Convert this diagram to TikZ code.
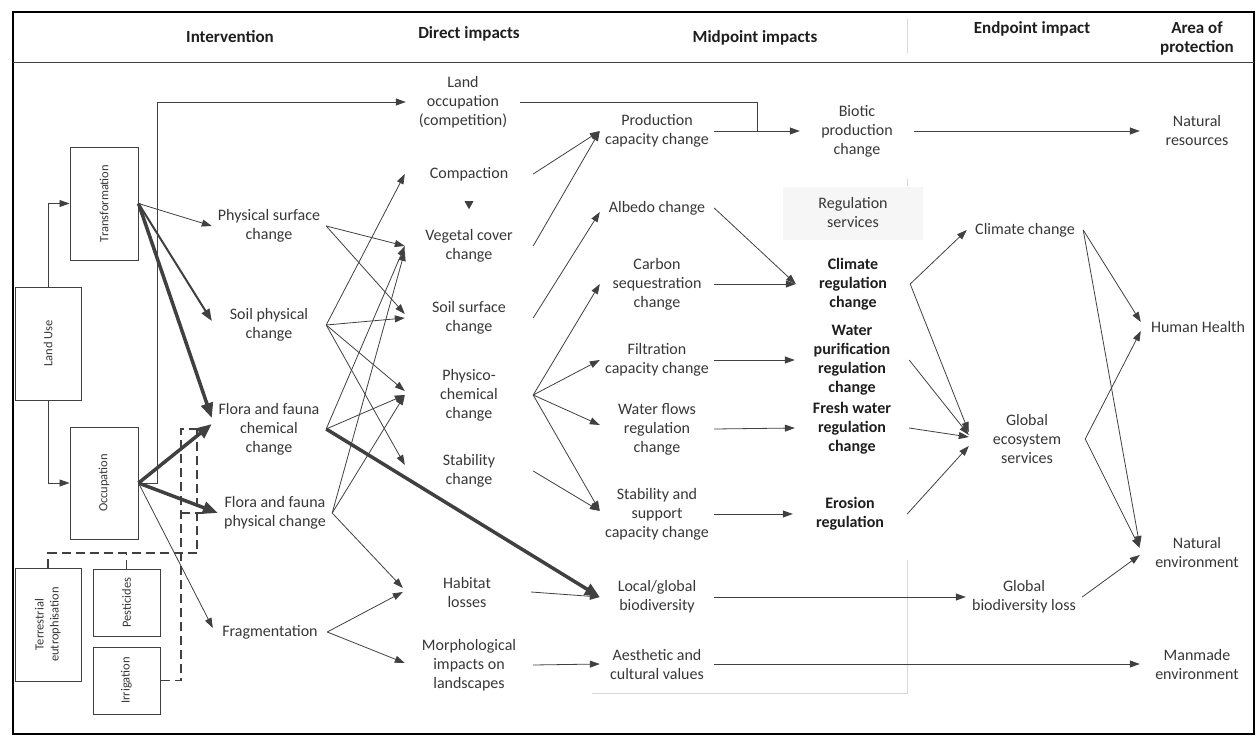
\documentclass[tikz,border=0pt]{standalone}
\usepackage{fontspec}
\setmainfont{Carlito}
\usetikzlibrary{arrows.meta,calc}
\definecolor{linec}{RGB}{64,64,64}
\definecolor{txtc}{RGB}{55,55,55}
\definecolor{hdrc}{RGB}{30,30,30}
\definecolor{faint}{RGB}{215,215,215}
\definecolor{rsfill}{RGB}{246,246,246}
\tikzset{
  txt/.style={align=center, text=txtc, font=\fontsize{16}{19}\selectfont, inner sep=0pt, minimum width=114pt},
  dtxt/.style={txt, minimum width=128pt},
  btxt/.style={txt, text=hdrc, font=\bfseries\fontsize{16}{19}\selectfont},
  hdr/.style={align=center, text=hdrc, font=\bfseries\fontsize{17}{19}\selectfont, inner sep=0pt},
  box/.style={draw=linec, line width=1pt, inner sep=0pt, text=txtc, font=\fontsize{12.5}{15}\selectfont},
  ln/.style={draw=linec, line width=0.8pt},
  arr/.style={ln, -{Triangle[length=10pt,width=7pt]}},
  marr/.style={ln, line width=2pt, -{Triangle[length=12pt,width=9pt]}},
  tarr/.style={ln, line width=3.5pt, -{Triangle[length=15pt,width=12pt]}},
  dsh/.style={draw=linec, line width=1.3pt, dash pattern=on 9pt off 5pt},
}
\begin{document}
\begin{tikzpicture}[x=1pt,y=-1pt]
\useasboundingbox (0,0) rectangle (1256,736);
% frame and header
\draw[black, line width=1.6pt] (13,12) rectangle (1254,734);
\draw[linec, line width=1pt] (13,62) -- (1254,62);
\draw[faint, line width=1pt] (907,19) -- (907,53);
\draw[faint, line width=1pt] (907,179) -- (907,186);
\draw[faint, line width=1pt] (907,560) -- (907,693) -- (592,693);

\node[hdr] (h1) at (230,37) {Intervention};
\node[hdr] (h2) at (469,34) {Direct impacts};
\node[hdr] (h3) at (755,38) {Midpoint impacts};
\node[hdr] (h4) at (1032,29) {Endpoint impact};
\node[hdr] (h5) at (1197,38) {Area of\\protection};

% left boxes
\node[box, minimum width=68pt, minimum height=113pt] (trans) at (104,203.5) {\rotatebox{90}{Transformation}};
\node[box, minimum width=66pt, minimum height=113pt] (lu) at (48,343.5) {\rotatebox{90}{Land Use}};
\node[box, minimum width=68pt, minimum height=112pt] (occ) at (104,483) {\rotatebox{90}{Occupation}};
\node[box, minimum width=66pt, minimum height=113pt] (te) at (48,624.5) {\rotatebox{90}{\begin{tabular}{@{}c@{}}Terrestrial\\eutrophisation\end{tabular}}};
\node[box, minimum width=67pt, minimum height=67pt] (pest) at (126.5,602.5) {\rotatebox{90}{Pesticides}};
\node[box, minimum width=67pt, minimum height=67pt] (irr) at (126.5,680.5) {\rotatebox{90}{Irrigation}};

% intervention results
\node[txt] (psc) at (269,226) {Physical surface\\change};
\node[txt] (spc) at (269,325) {Soil physical\\change};
\node[txt] (ffc) at (269,429) {Flora and fauna\\chemical\\change};
\node[txt] (ffp) at (275,513) {Flora and fauna\\physical change};
\node[txt] (frag) at (270,632) {Fragmentation};

% direct impacts
\node[txt] (lo) at (463,102) {Land\\occupation\\(competition)};
\node[dtxt] (comp) at (469,174) {Compaction};
\node[dtxt] (veg) at (469,246) {Vegetal cover\\change};
\node[dtxt] (ssc) at (469,318) {Soil surface\\change};
\node[dtxt] (phys) at (469,395) {Physico-\\chemical\\change};
\node[dtxt] (stab) at (469,471) {Stability\\change};
\node[dtxt] (hab) at (467,592) {Habitat\\losses};
\node[dtxt] (morph) at (469,665) {Morphological\\impacts on\\landscapes};

% midpoint
\node[txt] (pcc) at (657,131) {Production\\capacity change};
\node[txt] (alb) at (657,208) {Albedo change};
\node[txt] (cs) at (657,284) {Carbon\\sequestration\\change};
\node[txt] (filt) at (657,360) {Filtration\\capacity change};
\node[txt] (wf) at (657,429) {Water flows\\regulation\\change};
\node[txt] (ssup) at (657,514) {Stability and\\support\\capacity change};
\node[txt] (lgb) at (657,597) {Local/global\\biodiversity};
\node[txt] (aes) at (657,664) {Aesthetic and\\cultural values};

% regulation services
\node[txt] (bpc) at (857,131) {Biotic\\production\\change};
\node[txt, fill=rsfill, minimum width=140pt, minimum height=53pt] (rs) at (853,213) {Regulation\\services};
\node[btxt] (crc) at (853,284) {Climate\\regulation\\change};
\node[btxt] (wpr) at (852,360) {Water\\purification\\regulation\\change};
\node[btxt] (fwr) at (852,428) {Fresh water\\regulation\\change};
\node[btxt] (ero) at (850,514) {Erosion\\regulation};

% endpoint
\node[txt, minimum width=116pt] (cc) at (1025,230) {Climate change};
\node[txt, minimum width=116pt] (ges) at (1027,439) {Global\\ecosystem\\services};
\node[txt, minimum width=116pt] (gbl) at (1024,597) {Global\\biodiversity loss};

% area of protection
\node[txt] (nr) at (1197,131) {Natural\\resources};
\node[txt] (hh) at (1198,327) {Human Health};
\node[txt] (ne) at (1197,552) {Natural\\environment};
\node[txt] (me) at (1197,664) {Manmade\\environment};

% land use tree
\draw[arr] (lu.north) |- (trans.west);
\draw[arr] (lu.south) |- (occ.west);
\draw[arr] (occ.east) -- ($(occ.east)+(19,0)$) |- (lo.west);

% dashed contributions
\draw[dsh] (te.north) |- (197,553) -- (197,429);
\draw[dsh] (pest.north) -- (pest.north |- 0,553);
\draw[dsh] (irr.east) -| (181,429) -- (205,429);
\draw[dsh] (181,513) -- (205,513);

% from transformation / occupation
\draw[arr] (trans.east) -- (psc.west);
\draw[marr] (trans.east) -- ($(spc.west)+(0,-4)$);
\draw[tarr] (trans.east) -- ($(ffc.west)+(0,-11)$);
\draw[tarr] (occ.east) -- ($(ffc.west)+(0,-5)$);
\draw[tarr] (occ.east) -- (ffp.west);
\draw[arr] (occ.east) -- ($(frag.west)+(0,-4)$);

% to direct impacts
\draw[arr] (psc.east) -- (veg.west);
\draw[arr] (psc.east) -- ($(ssc.west)+(0,-4)$);
\draw[arr] (spc.east) -- (comp.west);
\draw[arr] (spc.east) -- (ssc.west);
\draw[arr] (spc.east) -- ($(phys.west)+(0,-4)$);
\draw[arr] (spc.east) -- ($(stab.west)+(0,-6)$);
\draw[arr] (ffc.east) -- (veg.west);
\draw[arr] (ffc.east) -- (phys.west);
\draw[arr] (ffp.east) -- ($(veg.west)+(0,5)$);
\draw[arr] (ffp.east) -- (phys.west);
\draw[arr] (ffp.east) -- ($(hab.west)+(0,-4)$);
\draw[arr] (frag.east) -- (hab.west);
\draw[arr] (frag.east) -- ($(morph.west)+(0,-2)$);
\fill[linec] ($(comp.south)!0.5!(veg.north)$) ++(-4.5,-4) -- ++(9,0) -- ++(-4.5,8) -- cycle;

% to midpoint
\draw[ln] (lo.east) -| ($(pcc.east)!0.5!(bpc.west)$);
\draw[arr] (comp.east) -- (pcc.west);
\draw[arr] (veg.east) -- (pcc.west);
\draw[arr] (ssc.east) -- ($(alb.west)+(0,4)$);
\draw[arr] (phys.east) -- (cs.west);
\draw[arr] (phys.east) -- (filt.west);
\draw[arr] (phys.east) -- ($(wf.west)+(0,-4)$);
\draw[arr] (phys.east) -- ($(ssup.west)+(0,-3)$);
\draw[arr] (stab.east) -- ($(ssup.west)+(0,-3)$);
\draw[arr] (hab.east) -- (lgb.west);
\draw[tarr] (ffc.east) -- (lgb.west);
\draw[arr] (morph.east) -- (aes.west);

% midpoint to regulation
\draw[arr] (pcc.east) -- (bpc.west);
\draw[arr] (alb.east) -- (crc.west);
\draw[arr] (cs.east) -- (crc.west);
\draw[arr] (filt.east) -- (wpr.west);
\draw[arr] (wf.east) -- (fwr.west);
\draw[arr] (ssup.east) -- (ero.west);
\draw[arr] (lgb.east) -- (gbl.west);
\draw[arr] (aes.east) -- (me.west);
\draw[arr] (bpc.east) -- (nr.west);

% to endpoint
\draw[arr] (crc.east) -- (cc.west);
\draw[arr] (crc.east) -- ($(ges.west)+(0,-7)$);
\draw[arr] (wpr.east) -- ($(ges.west)+(0,-4)$);
\draw[arr] (fwr.east) -- ($(ges.west)+(0,-2)$);
\draw[arr] (ero.east) -- ($(ges.west)+(0,7)$);

% to area of protection
\draw[arr] (cc.east) -- ($(hh.west)+(0,-5)$);
\draw[arr] (cc.east) -- ($(ne.west)+(0,-6)$);
\draw[arr] (ges.east) -- ($(hh.west)+(0,4)$);
\draw[arr] (ges.east) -- ($(ne.west)+(0,-4)$);
\draw[arr] (gbl.east) -- ($(ne.west)+(0,3)$);
\end{tikzpicture}
\end{document}
